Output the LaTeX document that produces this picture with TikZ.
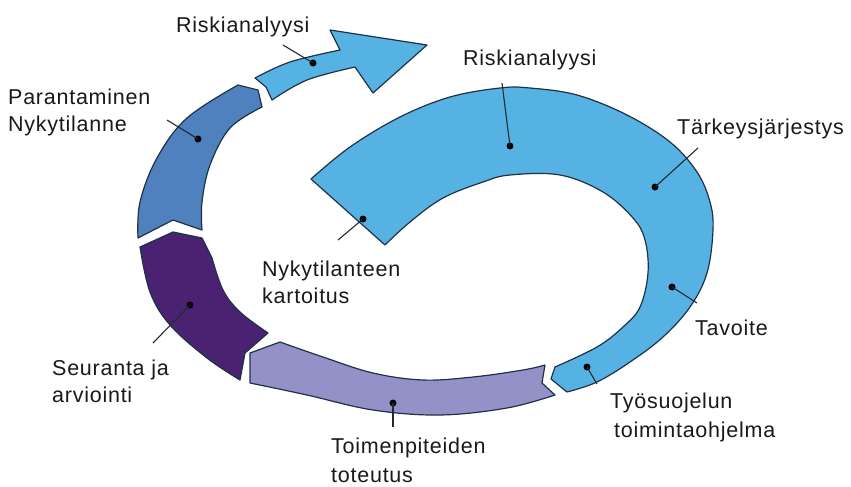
\documentclass[tikz,border=0pt]{standalone}
\usepackage{fontspec}
\setmainfont[LetterSpace=3.5]{Liberation Sans}
\definecolor{bigblue}{HTML}{56B2E2}
\definecolor{midblue}{HTML}{4F81BE}
\definecolor{deeppurple}{HTML}{4B2272}
\definecolor{lavender}{HTML}{9491C8}
\definecolor{edge}{HTML}{1E3246}
\definecolor{leadcol}{HTML}{1F2A36}
\tikzset{
  seg/.style={draw=edge, line width=1.2pt, line join=round},
  lbl/.style={inner sep=0pt, align=left, font=\fontsize{21.5}{27}\selectfont, text=black!90},
  widelbl/.style={lbl, font=\fontsize{21.5}{29}\selectfont},
  dotmark/.style={circle, fill=black, inner sep=0pt, minimum size=7pt},
  lead/.style={draw=leadcol, line width=1.1pt}
}
\begin{document}
\begin{tikzpicture}[x=1pt,y=-1pt]
\useasboundingbox (0,0) rectangle (851,487);
% big C shape
\path[seg, fill=bigblue] plot[smooth, tension=0.6] coordinates {(311,179) (350,147) (400,117) (450,97) (500,88) (530,88) (577,95) (627,115) (670,142) (697,172) (710,202) (713,230) (707,273) (690,307) (663,337) (630,362) (597,382) (567,392)}
 -- (551,379) -- (555,367)
 -- plot[smooth, tension=0.6] coordinates {(555,367) (597,347) (623,327) (640,307) (648,273) (645,240) (633,218) (603,192) (560,175) (510,175) (483,182) (443,198) (410,222) (385,245)}
 -- cycle;
% small arrow
\path[seg, fill=bigblue] (272,100) -- (266,87) -- (255,78)
 -- plot[smooth, tension=0.6] coordinates {(255,78) (290,62) (340,50)}
 -- (330,30) -- (427,45) -- (373,93) -- (355,67)
 -- plot[smooth, tension=0.6] coordinates {(355,67) (307,80) (272,100)}
 -- cycle;
% mid blue
\path[seg, fill=midblue] (238,85) -- (258,90) -- (262,107)
 -- plot[smooth, tension=0.6] coordinates {(262,107) (230,128) (210,165) (202,202) (202,230)}
 -- (173,220) -- (138,238)
 -- plot[smooth, tension=0.6] coordinates {(138,238) (140,202) (157,158) (187,118) (238,85)}
 -- cycle;
% purple
\path[seg, fill=deeppurple] (140,247) -- (173,232) -- (202,238) -- (212,258)
 -- plot[smooth, tension=0.6] coordinates {(212,258) (223,290) (240,312) (268,333)}
 -- (245,353) -- (240,380)
 -- plot[smooth, tension=0.6] coordinates {(240,380) (207,358) (170,325) (150,292) (140,247)}
 -- cycle;
% lavender
\path[seg, fill=lavender] (250,353) -- (280,342)
 -- plot[smooth, tension=0.6] coordinates {(280,342) (323,357) (373,373) (423,380) (473,377) (523,370) (545,365)}
 -- (542,383) -- (555,395)
 -- plot[smooth, tension=0.6] coordinates {(555,395) (507,408) (440,415) (373,410) (307,395) (250,383)}
 -- cycle;

% labels (base anchor = baseline of last line)
\node[lbl, anchor=base west] (t1) at (176,33) {Riskianalyysi};
\node[lbl, anchor=base west] (t2) at (8,131) {Parantaminen\\Nykytilanne};
\node[lbl, anchor=base west] (t3) at (463,66) {Riskianalyysi};
\node[lbl, anchor=base west] (t4) at (677,134) {Tärkeysjärjestys};
\node[lbl, anchor=base west] (t5) at (262,303) {Nykytilanteen\\kartoitus};
\node[lbl, anchor=base west] (t6) at (695,335) {Tavoite};
\node[widelbl, anchor=base west] (t7) at (610,437) {Työsuojelun\\\hspace*{4pt}toimintaohjelma};
\node[widelbl, anchor=base west] (t8) at (331,482) {Toimenpiteiden\\toteutus};
\node[lbl, anchor=base west] (t9) at (52,402) {Seuranta ja\\arviointi};

% leader dots and lines
\node[dotmark] (d1) at (313,63) {};
\node[dotmark] (d2) at (198,139) {};
\node[dotmark] (d3) at (510,146) {};
\node[dotmark] (d4) at (655,187) {};
\node[dotmark] (d5) at (363,219) {};
\node[dotmark] (d6) at (672,287) {};
\node[dotmark] (d7) at (587,367) {};
\node[dotmark] (d8) at (393,403) {};
\node[dotmark] (d9) at (190,305) {};
\coordinate (e1) at (283,45);
\coordinate (e2) at (167,120);
\coordinate (e3) at (502,83);
\coordinate (e4) at (698,148);
\coordinate (e5) at (338,240);
\coordinate (e6) at (697,303);
\coordinate (e7) at (597,384);
\coordinate (e8) at (393,427);
\coordinate (e9) at (153,343);
\foreach \i in {1,...,9} {\draw[lead] (d\i.center) -- (e\i);}
\end{tikzpicture}
\end{document}
